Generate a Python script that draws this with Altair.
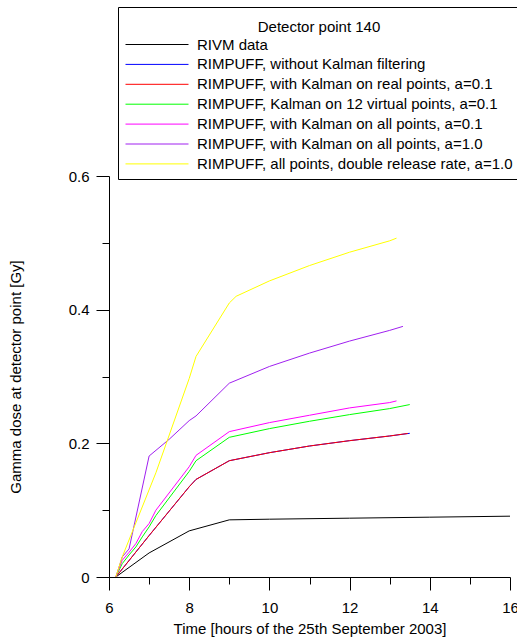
import altair as alt
import pandas as pd

# ---- data ----
series_names = [
    "RIVM data",
    "RIMPUFF, without Kalman filtering",
    "RIMPUFF, with Kalman on real points, a=0.1",
    "RIMPUFF, Kalman on 12 virtual points, a=0.1",
    "RIMPUFF, with Kalman on all points, a=0.1",
    "RIMPUFF, with Kalman on all points, a=1.0",
    "RIMPUFF, all points, double release rate, a=1.0",
]
series_colors = ["#000000", "#0000ff", "#ff0000", "#00ff00", "#ff00ff", "#a020f0", "#ffff00"]

rivm_t = [6.17, 7.0, 8.0, 9.0, 10.0, 12.0, 14.0, 16.0]
rivm_v = [0.0, 0.036, 0.069, 0.0855, 0.0865, 0.088, 0.0895, 0.091]

nokal_t = [6.17, 7.0, 8.0, 8.17, 9.0, 10.0, 11.0, 12.0, 13.0, 13.5]
nokal_v = [0.0, 0.062, 0.135, 0.146, 0.174, 0.186, 0.196, 0.204, 0.211, 0.215]

real_t = [6.17, 7.0, 8.0, 8.17, 9.0, 10.0, 11.0, 12.0, 13.0, 13.45]
real_v = [0.0, 0.062, 0.135, 0.146, 0.174, 0.186, 0.196, 0.204, 0.211, 0.2148]

virt_t = [6.17, 6.33, 6.5, 6.67, 6.83, 7.0, 7.17, 8.0, 8.17, 9.0, 10.0, 11.0, 12.0, 13.0, 13.5]
virt_v = [0.0, 0.02, 0.033, 0.045, 0.06, 0.075, 0.092, 0.158, 0.174, 0.209, 0.222, 0.233, 0.243, 0.252, 0.258]

all01_t = [6.17, 6.33, 6.5, 6.67, 6.83, 7.0, 7.17, 8.0, 8.17, 9.0, 10.0, 11.0, 12.0, 13.0, 13.17]
all01_v = [0.0, 0.025, 0.037, 0.05, 0.068, 0.08, 0.1, 0.165, 0.182, 0.2175, 0.231, 0.242, 0.253, 0.261, 0.2635]

all10_t = [6.17, 6.33, 6.5, 7.0, 7.5, 8.0, 8.17, 9.0, 10.0, 11.0, 12.0, 13.0, 13.33]
all10_v = [0.0, 0.03, 0.042, 0.181, 0.206, 0.234, 0.241, 0.29, 0.315, 0.335, 0.353, 0.369, 0.375]

double_t = [6.17, 6.33, 7.17, 8.0, 8.17, 9.0, 9.17, 10.0, 11.0, 12.0, 13.0, 13.17]
double_v = [0.0, 0.03, 0.156, 0.297, 0.33, 0.41, 0.42, 0.443, 0.466, 0.486, 0.503, 0.507]

x_major = [6, 8, 10, 12, 14, 16]
x_minor = [7, 9, 11, 13, 15]
y_major = [0, 0.2, 0.4, 0.6]
y_minor = [0.1, 0.3, 0.5]

all_t = [rivm_t, nokal_t, real_t, virt_t, all01_t, all10_t, double_t]
all_v = [rivm_v, nokal_v, real_v, virt_v, all01_v, all10_v, double_v]

rows = []
for k, (name, ts, vs) in enumerate(zip(series_names, all_t, all_v)):
    for t, v in zip(ts, vs):
        rows.append({"series": name, "k": k, "t": t, "v": v})
df = pd.DataFrame(rows)

FONT = "Liberation Sans"
FS = 15

xs = alt.Scale(domain=[6, 16], nice=False, zero=False)
ys = alt.Scale(domain=[0, 0.6], nice=False, zero=False)

lines = alt.Chart(df).mark_line(strokeWidth=1).encode(
    x=alt.X("t:Q", scale=xs, axis=alt.Axis(
        values=x_major, format="d", tickSize=13, labelPadding=10, orient="bottom",
        title="Time [hours of the 25th September 2003]", titlePadding=6,
        labelFlush=False, labelOverlap=False)),
    y=alt.Y("v:Q", scale=ys, axis=alt.Axis(
        values=y_major, format=".1~f", tickSize=13, labelPadding=7, orient="left",
        title="Gamma dose at detector point [Gy]", titlePadding=45,
        labelFlush=False, labelOverlap=False)),
    color=alt.Color("series:N", scale=alt.Scale(domain=series_names, range=series_colors),
                    legend=alt.Legend(
                        title="Detector point 140", orient="none", legendX=9, legendY=-169,
                        direction="vertical", titleAnchor="middle", titleFont=FONT,
                        titleFontSize=FS, titleFontWeight="normal", titleColor="black",
                        titleBaseline="line-top", titleLineHeight=27,
                        titlePadding=8, labelFont=FONT, labelFontSize=FS, labelColor="black",
                        labelLimit=0, labelOffset=8, symbolType="stroke", symbolSize=3969,
                        symbolStrokeWidth=1, clipHeight=15, rowPadding=3.9, padding=7,
                        strokeColor="black", fillColor="white")),
    detail="k:N",
    order="t:Q",
)

minor = alt.Chart(df).mark_point(opacity=0).encode(
    x=alt.X("t:Q", scale=xs, axis=alt.Axis(values=x_minor, tickSize=7, labels=False,
                                            domain=False, title=None, orient="bottom")),
    y=alt.Y("v:Q", scale=ys, axis=alt.Axis(values=y_minor, tickSize=7, labels=False,
                                            domain=False, title=None, orient="left")),
)

chart = alt.layer(lines, minor).resolve_axis(x="independent", y="independent").properties(
    width=401, height=401,
    autosize=alt.AutoSizeParams(type="none"),
    padding={"left": 109, "top": 176, "right": 7, "bottom": 62},
    background="white",
).configure_view(stroke=None).configure_axis(
    grid=False, domainColor="black", tickColor="black", domainWidth=1, tickWidth=1,
    labelFont=FONT, labelFontSize=FS, labelColor="black",
    titleFont=FONT, titleFontSize=FS, titleFontWeight="normal", titleColor="black",
)

chart.save("out.html", embed_options={"renderer": "svg", "actions": False})
